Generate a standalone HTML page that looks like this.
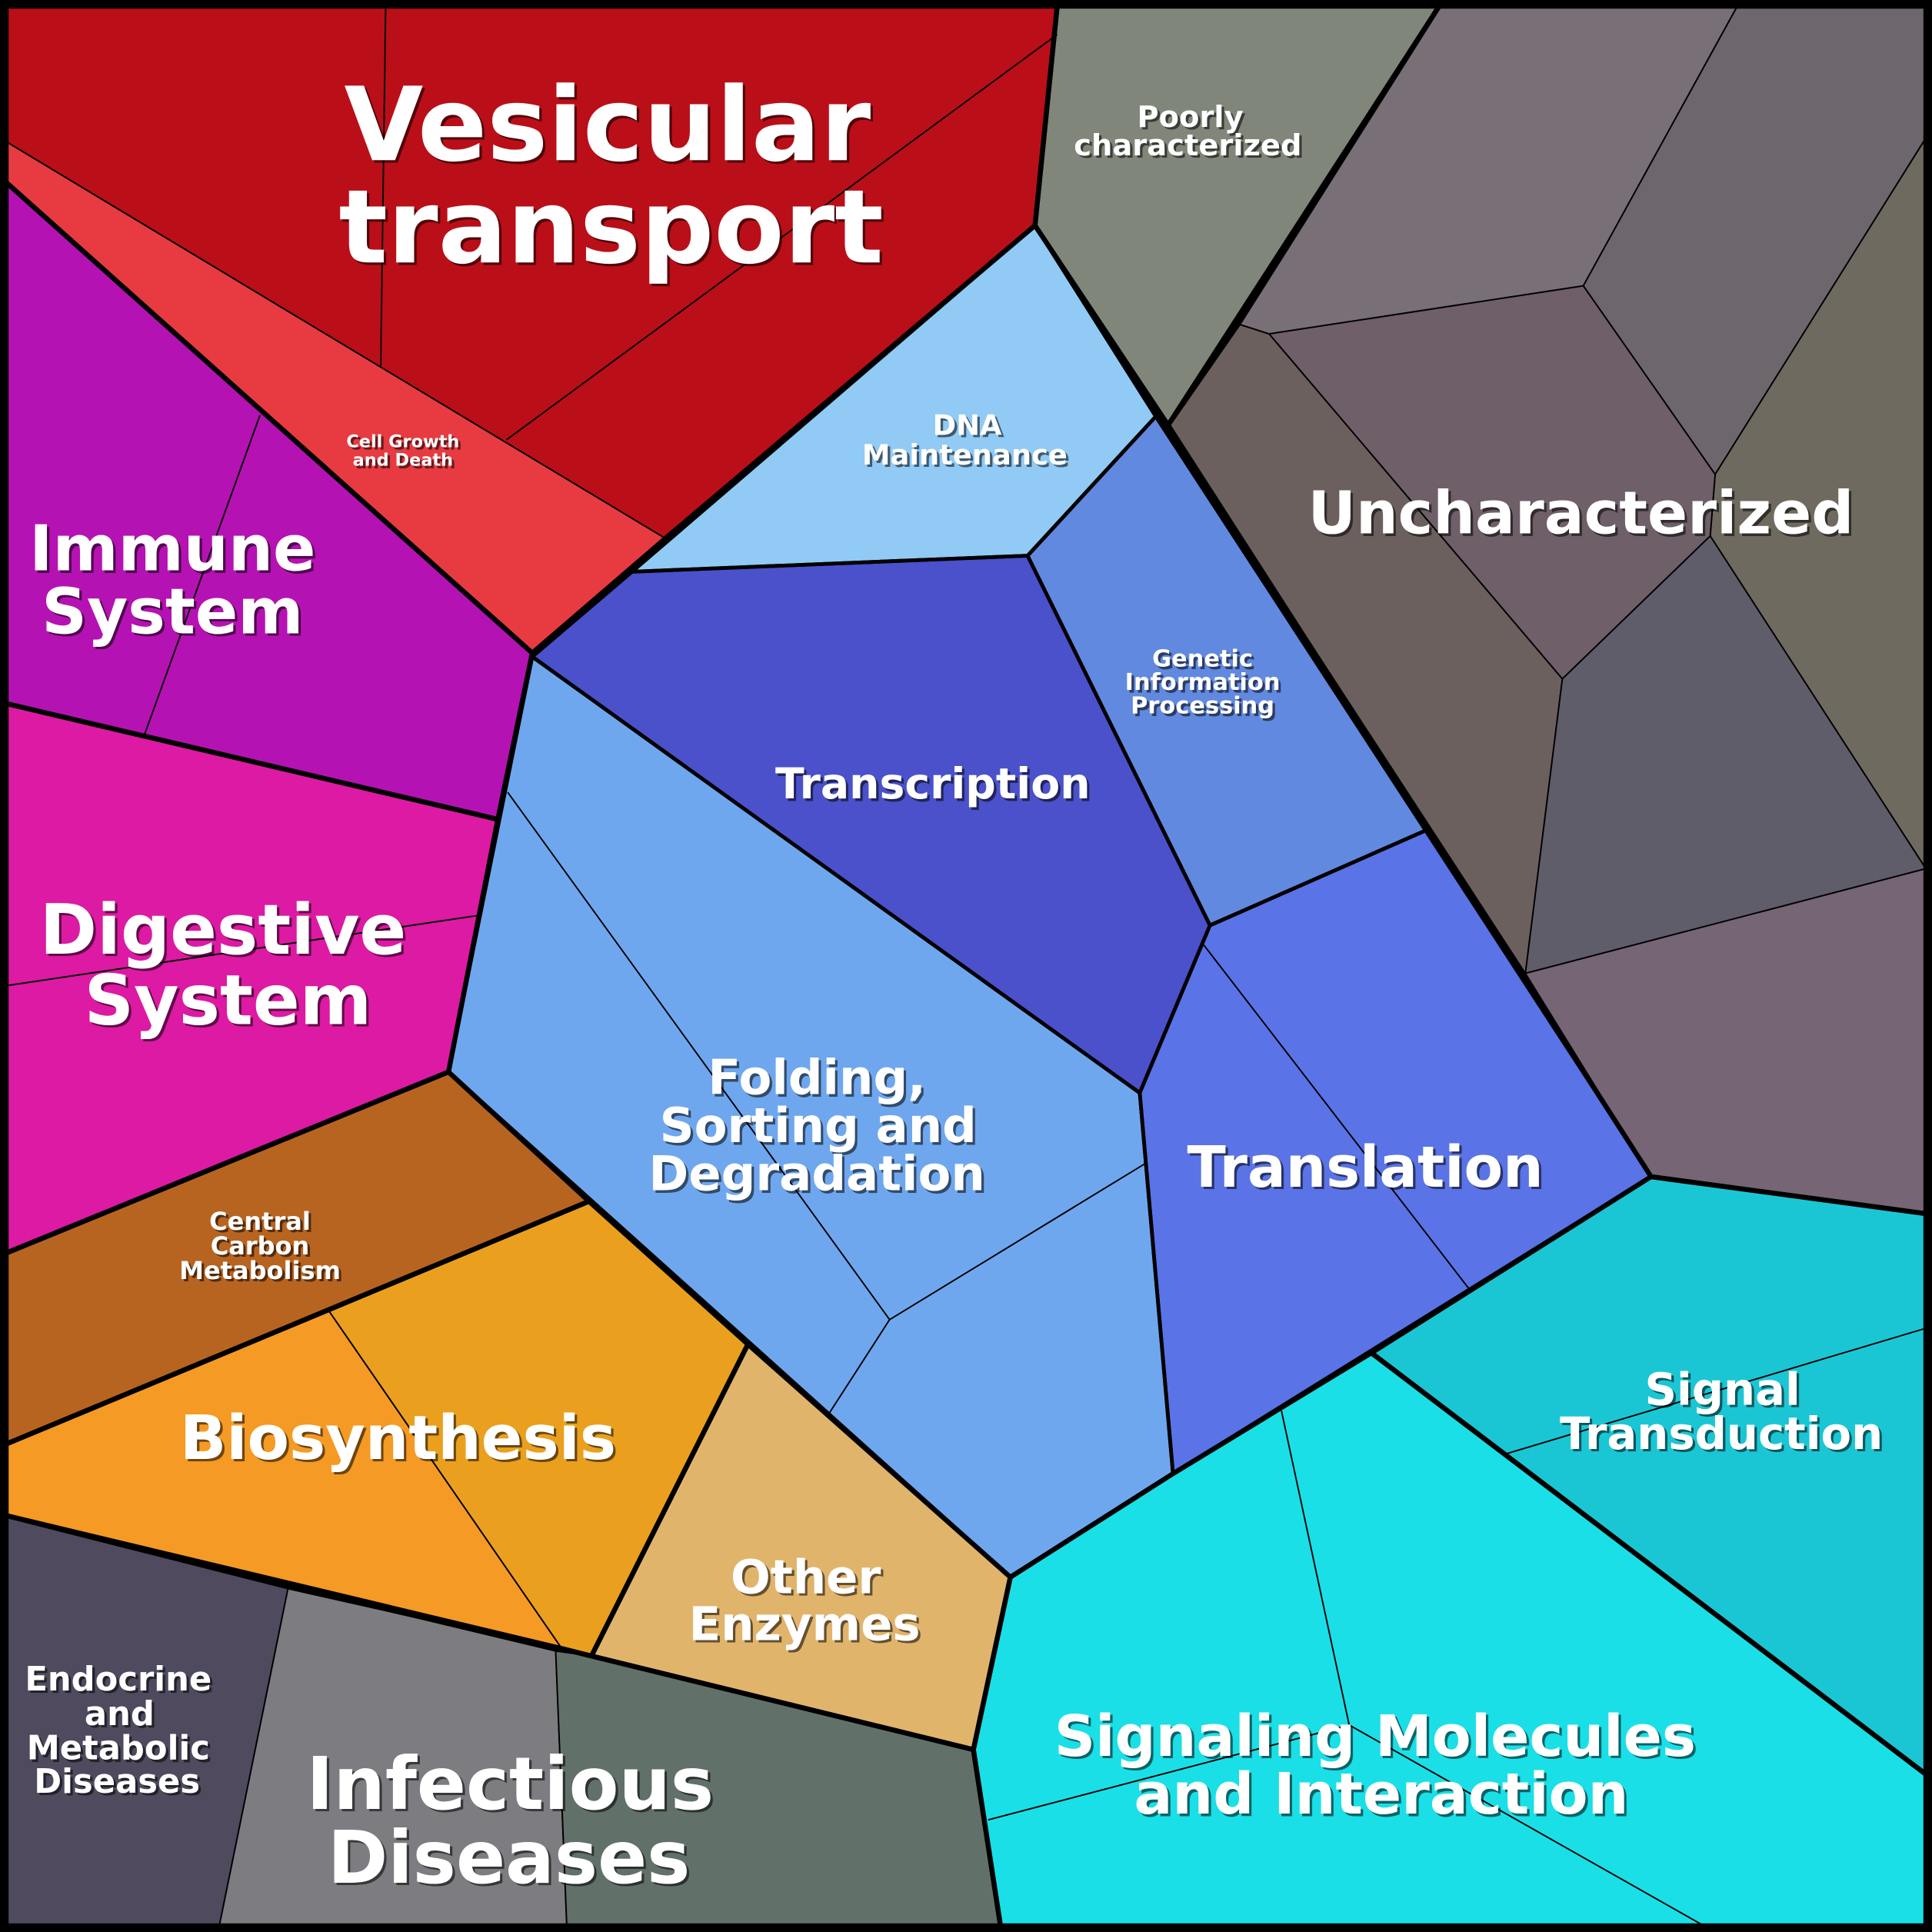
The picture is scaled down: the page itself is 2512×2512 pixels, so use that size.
<!DOCTYPE html>
<html><head><meta charset="utf-8"><style>
html,body{margin:0;padding:0;background:#000;}
svg{display:block;}
text{font-family:"DejaVu Sans","Liberation Sans",sans-serif;font-weight:bold;text-anchor:middle;}
</style></head><body>
<svg width="2512" height="2512" viewBox="0 0 1568 1568" xmlns="http://www.w3.org/2000/svg">
<defs>
<g id="L">
<text x="493" y="130" font-size="83">Vesicular</text>
<text x="496" y="213" font-size="83">transport</text>
<text x="966" y="103" font-size="24">Poorly</text>
<text x="964" y="126" font-size="24">characterized</text>
<text x="1283" y="433" font-size="48">Uncharacterized</text>
<text x="785" y="353" font-size="23">DNA</text>
<text x="783" y="377" font-size="23">Maintenance</text>
<text x="327" y="363" font-size="14">Cell Growth</text>
<text x="327" y="378" font-size="14">and Death</text>
<text x="140" y="463" font-size="51">Immune</text>
<text x="140" y="514" font-size="51">System</text>
<text x="976" y="541" font-size="19">Genetic</text>
<text x="976" y="560" font-size="19">Information</text>
<text x="976" y="579" font-size="19">Processing</text>
<text x="757" y="648" font-size="34.5">Transcription</text>
<text x="181" y="774" font-size="56">Digestive</text>
<text x="185" y="831" font-size="56">System</text>
<text x="663" y="888" font-size="39">Folding,</text>
<text x="664" y="927" font-size="39">Sorting and</text>
<text x="663" y="966" font-size="39">Degradation</text>
<text x="1108" y="963" font-size="46">Translation</text>
<text x="211" y="998" font-size="20">Central</text>
<text x="211" y="1018" font-size="20">Carbon</text>
<text x="211" y="1038" font-size="20">Metabolism</text>
<text x="323" y="1184" font-size="49.5">Biosynthesis</text>
<text x="1398" y="1140" font-size="36">Signal</text>
<text x="1397" y="1176" font-size="36">Transduction</text>
<text x="654" y="1293" font-size="38">Other</text>
<text x="653" y="1331" font-size="38">Enzymes</text>
<text x="96" y="1372" font-size="27">Endocrine</text>
<text x="97" y="1400" font-size="27">and</text>
<text x="96" y="1428" font-size="27">Metabolic</text>
<text x="95" y="1455" font-size="27">Diseases</text>
<text x="414" y="1468" font-size="59">Infectious</text>
<text x="413" y="1528" font-size="59">Diseases</text>
<text x="1116" y="1425" font-size="46.3">Signaling Molecules</text>
<text x="1121" y="1472" font-size="46.3">and Interaction</text>
</g>
</defs>
<rect x="0" y="0" width="1568" height="1568" fill="#000"/>
<g stroke="#000" stroke-width="1.2" stroke-linejoin="round">
<polygon fill="#BA0F18" points="5,5 858,5 840,183 540,437 5,115"/>
<polygon fill="#E73B41" points="5,115 540,437 432,530 5,148"/>
<polygon fill="#80877A" points="858,5 1168,5 1005,263 948,345 840,183"/>
<polygon fill="#796F77" points="1168,5 1410,5 1285,232 1030,271 1005,263"/>
<polygon fill="#6E666D" points="1410,5 1563,5 1563,112 1392,385 1285,232"/>
<polygon fill="#6F6A5F" points="1392,385 1563,112 1563,705 1388,435"/>
<polygon fill="#6E5F68" points="1030,271 1285,232 1392,385 1388,435 1268,551"/>
<polygon fill="#6C605E" points="1005,263 1030,271 1268,551 1238,790 948,345"/>
<polygon fill="#605D6B" points="1268,551 1388,435 1563,705 1238,790"/>
<polygon fill="#766574" points="1238,790 1563,705 1563,985 1340,955"/>
<polygon fill="#90CAF5" points="840,183 938,338 834,451 513,464"/>
<polygon fill="#4A51CB" points="432,533 513,464 834,451 982,751 925,887"/>
<polygon fill="#6289E0" points="834,451 938,338 1157,674 982,751"/>
<polygon fill="#5A73E6" points="982,751 1157,674 1340,955 952,1196 925,887"/>
<polygon fill="#6FA7EF" points="432,533 925,887 952,1196 820,1280 364,870"/>
<polygon fill="#B512B3" points="5,148 432,530 404,665 5,571"/>
<polygon fill="#DC1AA3" points="5,571 404,665 364,870 5,1017"/>
<polygon fill="#B86421" points="5,1017 364,870 478,975 5,1172"/>
<polygon fill="#F59A24" points="5,1172 267,1064 456,1338 5,1230"/>
<polygon fill="#EAA01E" points="267,1064 478,975 607,1091 480,1344 456,1338"/>
<polygon fill="#E1B46C" points="607,1091 820,1280 790,1420 480,1344"/>
<polygon fill="#4F4A5E" points="5,1230 234,1288 178,1563 5,1563"/>
<polygon fill="#7D7C80" points="234,1288 451,1340 460,1563 178,1563"/>
<polygon fill="#62706A" points="451,1340 480,1344 790,1420 812,1563 460,1563"/>
<polygon fill="#1ADFE7" points="820,1280 952,1196 1113,1098 1563,1440 1563,1563 812,1563 790,1420"/>
<polygon fill="#1BC6D4" points="1113,1098 1340,955 1563,985 1563,1440"/>
</g>
<g stroke="#000" stroke-width="1.2" fill="none">
<line x1="313" y1="5" x2="309" y2="297"/>
<line x1="858" y1="28" x2="411" y2="357"/>
<line x1="211" y1="337" x2="117" y2="597"/>
<line x1="5" y1="800" x2="388" y2="743"/>
<line x1="977" y1="767" x2="1193" y2="1047"/>
<line x1="412" y1="643" x2="722" y2="1071"/>
<line x1="722" y1="1071" x2="930" y2="944"/>
<line x1="722" y1="1071" x2="673" y2="1147"/>
<polyline points="1040,1145 1095,1400 1383,1563"/>
<line x1="1095" y1="1400" x2="802" y2="1477"/>
<line x1="1222" y1="1180" x2="1563" y2="1078"/>
</g>
<g stroke="#000" stroke-width="4" fill="none" stroke-linejoin="round">
<polygon points="5,5 858,5 840,183 540,437 432,530 5,148"/>
<polygon points="858,5 1168,5 1005,263 948,345 840,183"/>
<polygon points="1168,5 1563,5 1563,985 1340,955 948,345"/>
<polygon stroke-width="3" points="840,183 938,338 834,451 513,464"/>
<polygon stroke-width="3" points="432,533 513,464 834,451 982,751 925,887"/>
<polygon stroke-width="3" points="834,451 938,338 1157,674 982,751"/>
<polygon stroke-width="3" points="982,751 1157,674 1340,955 952,1196 925,887"/>
<polygon stroke-width="3" points="432,533 925,887 952,1196 820,1280 364,870"/>
<polygon points="5,148 432,530 404,665 5,571"/>
<polygon points="5,571 404,665 364,870 5,1017"/>
<polygon points="5,1017 364,870 478,975 5,1172"/>
<polygon points="5,1172 478,975 607,1091 480,1344 456,1338 5,1230"/>
<polygon points="607,1091 820,1280 790,1420 480,1344"/>
<polygon points="5,1230 234,1288 456,1338 480,1344 790,1420 812,1563 5,1563"/>
<polygon points="820,1280 952,1196 1113,1098 1563,1440 1563,1563 812,1563 790,1420"/>
<polygon points="1113,1098 1340,955 1563,985 1563,1440"/>
<rect x="3" y="3" width="1562" height="1562" stroke-width="6"/>
</g>
<use href="#L" fill="#000" opacity="0.55" transform="translate(2,2)"/>
<use href="#L" fill="#fff"/>
</svg>
</body></html>
